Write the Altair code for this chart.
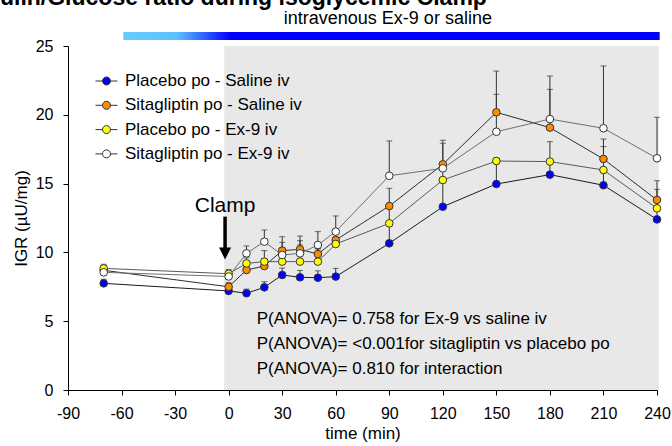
import altair as alt
import pandas as pd

# Sampling times (min) relative to the start of the clamp
times = [-70, 0, 10, 20, 30, 40, 50, 60, 90, 120, 150, 180, 210, 240]

groups = ["Placebo po - Saline iv", "Sitagliptin po - Saline iv",
          "Placebo po - Ex-9 iv", "Sitagliptin po - Ex-9 iv"]
group_fill = ["#0000FF", "#FF8C00", "#FFFF00", "#FFFFFF"]
group_line = ["#1A1A1A", "#2E2E2E", "#5A5A5A", "#707070"]

# Mean insulin/glucose ratio (µU/mg) per group
igr_placebo_saline = [7.75, 7.20, 7.03, 7.46, 8.36, 8.19, 8.16, 8.24, 10.66, 13.32, 14.97, 15.65, 14.88, 12.40]
igr_sita_saline = [8.70, 7.50, 8.72, 9.01, 10.13, 10.22, 9.88, 10.90, 13.37, 16.40, 20.18, 19.07, 16.79, 13.81]
igr_placebo_ex9 = [8.84, 8.45, 9.20, 9.33, 9.33, 9.33, 9.33, 10.61, 12.11, 15.26, 16.64, 16.60, 15.99, 13.20]
igr_sita_ex9 = [8.55, 8.25, 9.93, 10.78, 9.81, 9.93, 10.54, 11.51, 15.57, 16.11, 18.77, 19.69, 19.02, 16.84]

# SEM, drawn as upper whiskers only
sem_placebo_saline = [0.30, 0.30, 0.30, 0.41, 0.50, 0.50, 0.50, 0.60, 1.30, 1.80, 1.70, 1.00, 1.10, 0.80]
sem_sita_saline = [0.30, 0.30, 0.40, 0.50, 0.60, 0.97, 0.40, 0.50, 1.29, 1.53, 3.00, 2.78, 1.45, 1.40]
sem_placebo_ex9 = [0.30, 0.30, 0.40, 0.80, 0.50, 1.21, 0.92, 0.50, 1.10, 1.00, 0.20, 1.45, 1.70, 1.38]
sem_sita_ex9 = [0.30, 0.30, 0.54, 0.85, 1.33, 0.92, 0.97, 1.14, 2.53, 2.04, 2.72, 3.13, 4.53, 2.98]

means = [igr_placebo_saline, igr_sita_saline, igr_placebo_ex9, igr_sita_ex9]
sems = [sem_placebo_saline, sem_sita_saline, sem_placebo_ex9, sem_sita_ex9]

# Shaded clamp period and the infusion bar above the plot
clamp_period = {"t0": -2.5, "t1": 241.0}
infusion = {"t0": -59.0, "t1": 241.5, "lo": 25.44, "hi": 26.02}

anova_lines = ["P(ANOVA)= 0.758 for Ex-9 vs saline iv",
               "P(ANOVA)= <0.001for sitagliptin vs placebo po",
               "P(ANOVA)= 0.810 for interaction"]
anova_y = [5.16, 3.34, 1.53]
anova_t = 15.7

FONT = "Liberation Sans"

rows = []
for gi, g in enumerate(groups):
    for t, m, s in zip(times, means[gi], sems[gi]):
        rows.append({"group": g, "order": gi, "time": t, "igr": m, "top": m + s})
df = pd.DataFrame(rows)

x_scale = alt.Scale(domain=[-90, 240], nice=False, zero=False)
y_scale = alt.Scale(domain=[0, 25], nice=False, zero=True)
x_axis = alt.Axis(values=list(range(-90, 241, 30)), title="time (min)", grid=False,
                  labelFlush=False, tickSize=5, labelPadding=10, titlePadding=4,
                  labelExpr="'' + datum.value")
y_axis = alt.Axis(values=[0, 5, 10, 15, 20, 25], title="IGR (µU/mg)", grid=False,
                  labelFlush=False, tickSize=5, labelPadding=10, titlePadding=5)


def X(field):
    return alt.X(field, type="quantitative", scale=x_scale, axis=x_axis)


def Y(field):
    return alt.Y(field, type="quantitative", scale=y_scale, axis=y_axis)


bg = alt.Chart(pd.DataFrame([{"t0": clamp_period["t0"], "t1": clamp_period["t1"], "lo": 0, "hi": 25}])).mark_rect(
    fill="#E8E8E8"
).encode(x=X("t0"), x2="t1", y=Y("lo"), y2="hi")

bar = alt.Chart(pd.DataFrame([infusion])).mark_rect(
    fill=alt.Gradient(
        gradient="linear",
        stops=[alt.GradientStop(color="#66CCFF", offset=0),
               alt.GradientStop(color="#5CC2FF", offset=0.1),
               alt.GradientStop(color="#0000FF", offset=0.2),
               alt.GradientStop(color="#0000FF", offset=1)],
        x1=0, x2=1, y1=0, y2=0),
    clip=False,
).encode(x=X("t0"), x2="t1", y=Y("lo"), y2="hi")

bar_label = alt.Chart(pd.DataFrame([{"t": 89.2, "v": 26.98, "txt": "intravenous Ex-9 or saline"}])).mark_text(
    font=FONT, fontSize=18, color="#000000", align="center", baseline="middle"
).encode(x=X("t"), y=Y("v"), text="txt:N")

title = alt.Chart(pd.DataFrame([{"t": 144.7, "v": 27.95, "txt": "Insulin/Glucose ratio during isoglycemic Clamp"}])).mark_text(
    font=FONT, fontSize=23, fontWeight="bold", color="#000000", align="right", baseline="alphabetic"
).encode(x=X("t"), y=Y("v"), text="txt:N")

base = alt.Chart(df)

err = base.mark_rule(color="#333333", strokeWidth=1).encode(x=X("time"), y=Y("igr"), y2="top")
caps = base.mark_tick(color="#333333", orient="horizontal", size=6, thickness=1).encode(x=X("time"), y=Y("top"))

lines = base.mark_line(strokeWidth=1).encode(
    x=X("time"), y=Y("igr"),
    stroke=alt.Stroke("group:N", scale=alt.Scale(domain=groups, range=group_line), legend=None),
    order="time:Q",
)

legend_symbol = "M-2.75,0H-1M1,0H2.75M-1,0A1,1,0,1,1,1,0A1,1,0,1,1,-1,0Z"

points = base.mark_point(filled=True, shape="circle", size=58, stroke="#333333", strokeWidth=1, opacity=1).encode(
    x=X("time"), y=Y("igr"),
    fill=alt.Fill("group:N", scale=alt.Scale(domain=groups, range=group_fill),
                  legend=alt.Legend(title=None, orient="none", legendX=30, legendY=26.5,
                                    symbolType=legend_symbol, symbolSize=64,
                                    symbolStrokeColor="#333333", symbolStrokeWidth=1,
                                    labelFont=FONT, labelFontSize=17, labelColor="#000000",
                                    labelOffset=10, labelLimit=400, rowPadding=6.3, padding=0)),
    order="order:Q",
)

clamp_txt = alt.Chart(pd.DataFrame([{"t": -2.0, "v": 12.95, "txt": "Clamp"}])).mark_text(
    font=FONT, fontSize=21, color="#000000", align="center", baseline="alphabetic"
).encode(x=X("t"), y=Y("v"), text="txt:N")

arrow = alt.Chart(pd.DataFrame([{"t": -2.0, "v0": 12.6, "v1": 10.2}])).mark_rule(
    color="#000000", strokeWidth=3.5
).encode(x=X("t"), y=Y("v0"), y2="v1")

arrow_head = alt.Chart(pd.DataFrame([{"t": -2.0, "v": 9.92}])).mark_point(
    shape="M-1,-1L1,-1L0,1Z", size=144, filled=True, fill="#000000", strokeWidth=0, opacity=1
).encode(x=X("t"), y=Y("v"))

anova = alt.Chart(pd.DataFrame({"t": [anova_t] * 3, "v": anova_y, "txt": anova_lines})).mark_text(
    font=FONT, fontSize=17, color="#000000", align="left", baseline="middle"
).encode(x=X("t"), y=Y("v"), text="txt:N")

chart = alt.layer(
    bg, bar, bar_label, title, err, caps, lines, points, clamp_txt, arrow, arrow_head, anova
).resolve_scale(fill="independent", stroke="independent").properties(
    width=589, height=344,
    padding={"left": 68, "top": 46, "right": 15, "bottom": 56},
    autosize=alt.AutoSizeParams(type="none"),
    background="#FFFFFF",
).configure_view(stroke=None).configure_axis(
    labelFont=FONT, titleFont=FONT, labelFontSize=16, titleFontSize=17,
    labelColor="#000000", titleColor="#000000", tickColor="#000000", domainColor="#000000",
    titleFontWeight="normal", domainWidth=1, tickWidth=1,
)

chart.save("out.html", embed_options={"renderer": "svg", "actions": False})
